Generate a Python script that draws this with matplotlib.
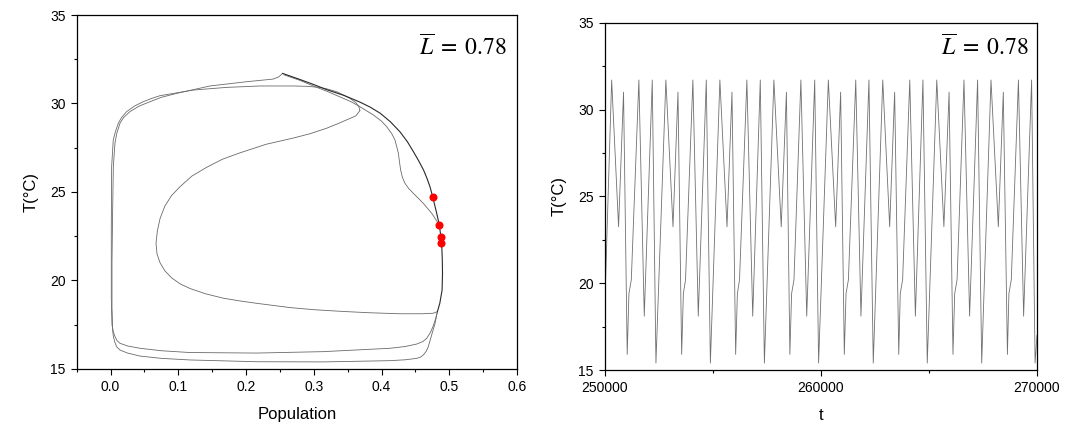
import matplotlib
matplotlib.use('Agg')
import matplotlib.pyplot as plt
from matplotlib.ticker import MultipleLocator, FormatStrFormatter

plt.rcParams['font.family'] = ['Liberation Sans', 'DejaVu Sans']
plt.rcParams['mathtext.fontset'] = 'stix'

# ---- phase portrait, traced by hand off the attractor ----
# outer arc from the tip down the right edge (several passes overlap here)
outer_P = [0.254, 0.265, 0.28, 0.30, 0.319, 0.345, 0.368, 0.383, 0.398, 0.413,
           0.427, 0.438, 0.447, 0.455, 0.462, 0.467, 0.4715, 0.4755, 0.4814, 0.4853,
           0.4888, 0.4897, 0.490, 0.4894, 0.486, 0.4825]
outer_T = [31.70, 31.55, 31.35, 31.07, 30.78, 30.45, 30.08, 29.80, 29.45, 28.97,
           28.41, 27.85, 27.28, 26.75, 26.24, 25.78, 25.30, 24.73, 23.80, 23.15,
           22.10, 21.16, 20.40, 19.46, 18.71, 18.24]

# inner arc with the bump, ends at the 23.2 dot
inner_P = [0.256, 0.28, 0.30, 0.32, 0.34, 0.355, 0.368, 0.388, 0.40, 0.4076,
           0.415, 0.4198, 0.4225, 0.4248, 0.4265, 0.4282, 0.431, 0.4346, 0.44, 0.4469,
           0.4616, 0.474, 0.4838]
inner_T = [31.62, 31.30, 30.98, 30.68, 30.35, 30.10, 29.82, 29.35, 29.00, 28.69,
           28.30, 27.94, 27.55, 27.19, 26.70, 26.24, 25.80, 25.49, 25.20, 24.93,
           24.36, 23.80, 23.23]

# top line from the tip, left side, lower bottom line
A_P = [0.254, 0.248, 0.24, 0.2007, 0.1466, 0.0974, 0.075, 0.058, 0.042, 0.0285,
       0.019, 0.0138, 0.009, 0.0064, 0.004, 0.003, 0.002, 0.002, 0.003, 0.004,
       0.006, 0.009, 0.0139, 0.025, 0.0434, 0.075, 0.117, 0.2157, 0.314, 0.4125,
       0.435, 0.452, 0.458, 0.4616, 0.466, 0.469, 0.474, 0.479, 0.4825]
A_T = [31.70, 31.50, 31.38, 31.23, 30.99, 30.57, 30.35, 30.10, 29.85, 29.54,
       29.20, 28.88, 28.30, 27.75, 26.43, 24.0, 21.0, 18.5, 17.2, 16.85,
       16.54, 16.25, 16.07, 15.90, 15.73, 15.60, 15.51, 15.41, 15.40, 15.47,
       15.52, 15.60, 15.68, 15.79, 16.00, 16.26, 16.92, 17.58, 18.24]

# second top line (S turn), left side, upper bottom line
B_P = [0.368, 0.3665, 0.362, 0.353, 0.3335, 0.32, 0.309, 0.29, 0.2696, 0.2204,
       0.171, 0.122, 0.0728, 0.06, 0.048, 0.035, 0.0236, 0.016, 0.0113, 0.007,
       0.0039, 0.0015, 0.001, 0.001, 0.002, 0.004, 0.0065, 0.0095, 0.0139, 0.025,
       0.0434, 0.075, 0.117, 0.2157, 0.314, 0.4125, 0.435, 0.452, 0.461, 0.4666,
       0.472, 0.476, 0.4795, 0.4825]
B_T = [29.60, 29.82, 30.05, 30.30, 30.67, 30.82, 30.91, 30.97, 30.99, 30.99,
       30.91, 30.76, 30.44, 30.28, 30.10, 29.85, 29.54, 29.20, 28.88, 28.40,
       27.94, 26.43, 23.0, 19.0, 17.5, 17.1, 16.83, 16.60, 16.45, 16.30,
       16.17, 16.03, 15.93, 15.90, 15.98, 16.17, 16.27, 16.41, 16.55, 16.73,
       17.05, 17.40, 17.80, 18.24]

# inner S loop
S_P = [0.368, 0.362, 0.350, 0.335, 0.3187, 0.295, 0.27, 0.23, 0.19, 0.165,
       0.142, 0.12, 0.1025, 0.09, 0.08, 0.073, 0.069, 0.067, 0.0685, 0.073,
       0.08, 0.09, 0.103, 0.117, 0.14, 0.1664, 0.19, 0.2157, 0.2648, 0.30,
       0.3387, 0.38, 0.4272, 0.46, 0.4764, 0.4825]
S_T = [29.60, 29.30, 29.10, 28.85, 28.60, 28.30, 28.05, 27.70, 27.20, 26.85,
       26.40, 25.90, 25.30, 24.80, 24.20, 23.50, 22.80, 22.10, 21.50, 21.00,
       20.55, 20.15, 19.80, 19.55, 19.25, 19.00, 18.85, 18.71, 18.47, 18.35,
       18.26, 18.18, 18.12, 18.12, 18.15, 18.24]

dot_P = [0.4756, 0.4853, 0.4878, 0.4882]
dot_T = [24.73, 23.15, 22.47, 22.10]

# ---- time series, turning points ----
t_vals = [250000, 250310, 250630, 250860, 251030, 251110, 251220, 251570, 251820, 252190,
          252360, 252820, 253150, 253380, 253550, 253630, 253730, 254070, 254320, 254690,
          254880, 255320, 255650, 255880, 256050, 256130, 256230, 256570, 256840, 257190,
          257380, 257820, 258160, 258400, 258560, 258640, 258750, 259070, 259340, 259710,
          259890, 260340, 260680, 260910, 261080, 261160, 261270, 261610, 261850, 262220,
          262420, 262860, 263180, 263410, 263600, 263670, 263780, 264110, 264370, 264720,
          264920, 265360, 265690, 265930, 266110, 266190, 266300, 266620, 266880, 267250,
          267440, 267870, 268210, 268440, 268630, 268700, 268810, 269140, 269380, 269750,
          269910, 270000]
T_vals = [19.0, 31.7, 23.25, 31.0, 15.9, 19.4, 20.2, 31.7, 18.1, 31.7,
          15.4, 31.7, 23.25, 31.0, 15.9, 19.4, 20.2, 31.7, 18.1, 31.7,
          15.4, 31.7, 23.25, 31.0, 15.9, 19.4, 20.2, 31.7, 18.1, 31.7,
          15.4, 31.7, 23.25, 31.0, 15.9, 19.4, 20.2, 31.7, 18.1, 31.7,
          15.4, 31.7, 23.25, 31.0, 15.9, 19.4, 20.2, 31.7, 18.1, 31.7,
          15.4, 31.7, 23.25, 31.0, 15.9, 19.4, 20.2, 31.7, 18.1, 31.7,
          15.4, 31.7, 23.25, 31.0, 15.9, 19.4, 20.2, 31.7, 18.1, 31.7,
          15.4, 31.7, 23.25, 31.0, 15.9, 19.4, 20.2, 31.7, 18.1, 31.7,
          15.4, 17.0]

fig = plt.figure(figsize=(10.66, 4.25), dpi=100)
ax1 = fig.add_axes([0.0720, 0.1318, 0.4130, 0.8329])
ax2 = fig.add_axes([0.5675, 0.1294, 0.4053, 0.8172])

for P, T in [(A_P, A_T), (B_P, B_T), (S_P, S_T), (inner_P, inner_T)]:
    ax1.plot(P, T, color='#6a6a6a', lw=0.6)
ax1.plot(outer_P, outer_T, color='#2a2a2a', lw=0.8)
ax1.plot(dot_P, dot_T, 'o', color='red', ms=5.8, mec='none')

ax2.plot(t_vals, T_vals, color='#707070', lw=0.6)

ax1.set_xlim(-0.05, 0.6)
ax1.set_ylim(15, 35)
ax1.xaxis.set_major_locator(MultipleLocator(0.1))
ax1.xaxis.set_minor_locator(MultipleLocator(0.05))
ax1.xaxis.set_major_formatter(FormatStrFormatter('%.1f'))
ax1.set_xlabel('Population', fontsize=12, labelpad=9)

ax2.set_xlim(250000, 270000)
ax2.set_ylim(15, 35)
ax2.xaxis.set_major_locator(MultipleLocator(10000))
ax2.xaxis.set_minor_locator(MultipleLocator(5000))
ax2.xaxis.set_major_formatter(FormatStrFormatter('%d'))
ax2.set_xlabel('t', fontsize=12, labelpad=9)

for ax in (ax1, ax2):
    ax.yaxis.set_major_locator(MultipleLocator(5))
    ax.yaxis.set_minor_locator(MultipleLocator(2.5))
    ax.set_ylabel('T(°C)', fontsize=12, labelpad=8)
    ax.tick_params(which='major', direction='out', length=4.5, width=0.8, labelsize=10)
    ax.tick_params(which='minor', direction='out', length=2.5, width=0.8)
    for s in ax.spines.values():
        s.set_linewidth(0.9)

ax1.text(0.977, 0.887, r'$\overline{L}\;=\;0.78$', transform=ax1.transAxes,
         ha='right', va='baseline', fontsize=17)
ax2.text(0.982, 0.907, r'$\overline{L}\;=\;0.78$', transform=ax2.transAxes,
         ha='right', va='baseline', fontsize=17)

fig.savefig('out.png', dpi=100)
